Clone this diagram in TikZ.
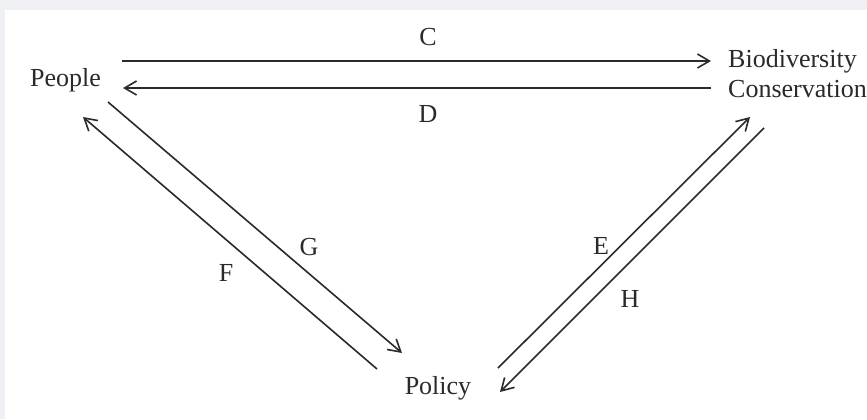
\documentclass[tikz,border=0pt]{standalone}
\usepackage{fontspec}
\setmainfont{Liberation Serif}
\usetikzlibrary{arrows.meta}
\definecolor{framegray}{HTML}{EEF0F3}
\definecolor{ink}{HTML}{2A2A2A}
\begin{document}
\begin{tikzpicture}[x=1bp,y=-1bp,
  lbl/.style={inner sep=0pt,text=ink,font=\fontsize{26bp}{30bp}\selectfont},
  link/.style={draw=ink,line width=1.6bp,-{Straight Barb[length=12bp,width=14bp,line width=1.6bp]}}]
\useasboundingbox (0,0) rectangle (867,419);
\fill[framegray] (0,0) rectangle (867,419);
\fill[white] (5,10) rectangle (867,419);
% text nodes
\node[lbl,anchor=base west] (people) at (30,86) {People};
\node[lbl,anchor=base west] (bio) at (728,67) {Biodiversity};
\node[lbl,anchor=base west] (cons) at (728,97) {Conservation};
\node[lbl,anchor=base] (policy) at (438,394) {Policy};
% connector end points
\coordinate (c1) at (122,61);  \coordinate (c2) at (711,61);
\coordinate (d1) at (711,88);  \coordinate (d2) at (123,88);
\coordinate (g1) at (108,102); \coordinate (g2) at (402,353);
\coordinate (f1) at (377,369); \coordinate (f2) at (83,117);
\coordinate (e1) at (498,368); \coordinate (e2) at (750,117);
\coordinate (h1) at (764,128); \coordinate (h2) at (500,392);
\draw[link] (c1) -- (c2);
\draw[link] (d1) -- (d2);
\draw[link] (g1) -- (g2);
\draw[link] (f1) -- (f2);
\draw[link] (e1) -- (e2);
\draw[link] (h1) -- (h2);
% labels
\node[lbl,anchor=base] (lc) at (428,45) {C};
\node[lbl,anchor=base] (ld) at (428,122) {D};
\node[lbl,anchor=base] (lg) at (309,255) {G};
\node[lbl,anchor=base] (lf) at (226,281) {F};
\node[lbl,anchor=base] (le) at (601,254) {E};
\node[lbl,anchor=base] (lh) at (630,307) {H};
\end{tikzpicture}
\end{document}
